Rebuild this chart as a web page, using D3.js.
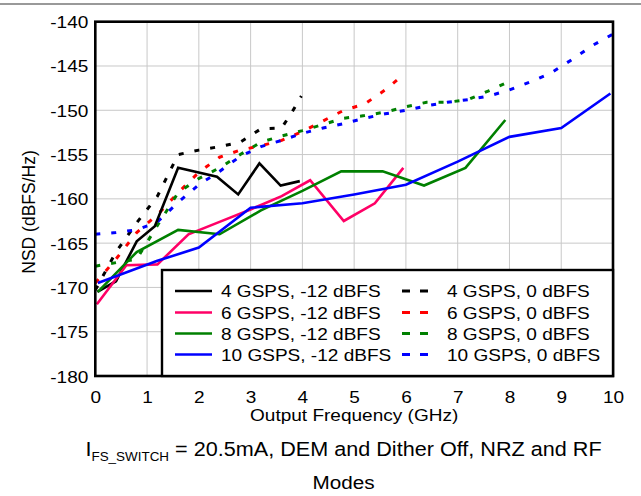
<!DOCTYPE html>
<html><head><meta charset="utf-8">
<script src="https://cdn.jsdelivr.net/npm/d3@7"></script>
<style>html,body{margin:0;padding:0;background:#fff;}svg{display:block;}text{font-family:"Liberation Sans",Arial,sans-serif;fill:#000;}</style>
</head><body>
<script>
// ---- data ----
const xTicks = [0,1,2,3,4,5,6,7,8,9,10];
const yTicks = [-180,-175,-170,-165,-160,-155,-150,-145,-140];

const f4s  = [0.04,0.4,0.8,1.15,1.6,2.35,2.76,3.17,3.58,3.95];
const v4s  = [-170.5,-169.3,-164.8,-163.1,-156.5,-157.5,-159.5,-156.0,-158.5,-158.0];
const f6s  = [0.03,0.6,1.2,1.8,2.4,3.0,3.6,4.15,4.8,5.4,5.95];
const v6s  = [-171.9,-167.5,-167.4,-164.0,-162.6,-161.2,-159.7,-157.9,-162.5,-160.5,-156.5];
const f8s  = [0.05,0.8,1.6,2.4,3.2,4.0,4.75,5.55,6.35,7.15,7.92];
const v8s  = [-170.5,-166.0,-163.5,-164.0,-161.3,-159.1,-156.9,-156.9,-158.5,-156.5,-151.1];
const f10s = [0.05,1.2,2.0,3.0,4.0,5.0,6.0,7.0,8.0,9.0,9.95];
const v10s = [-169.5,-167.0,-165.5,-161.0,-160.5,-159.5,-158.4,-155.8,-153.0,-152.0,-148.1];

const f4d  = [0.0,0.4,0.8,1.2,1.6,2.0,2.4,2.8,3.2,3.6,3.8,3.98];
const v4d  = [-170.3,-166.0,-162.7,-159.7,-155.0,-154.5,-154.1,-153.6,-152.1,-152.0,-150.2,-148.4];
const f6d  = [0.0,0.4,0.8,1.2,1.6,2.0,2.4,2.8,3.2,3.6,4.0,4.4,4.8,5.2,5.6,5.95];
const v6d  = [-169.5,-166.8,-163.8,-161.8,-159.3,-157.0,-155.3,-154.5,-154.0,-153.4,-152.4,-151.2,-150.0,-149.3,-147.7,-146.0];
const f8d  = [0.0,0.4,0.8,1.2,1.6,2.0,2.4,2.8,3.2,3.6,4.0,4.4,4.8,5.2,5.6,6.0,6.4,6.8,7.2,7.6,7.9];
const v8d  = [-167.6,-167.2,-166.8,-163.0,-159.3,-157.7,-156.5,-155.0,-153.6,-152.9,-152.3,-151.6,-150.9,-150.6,-150.2,-149.6,-149.1,-149.1,-148.8,-147.8,-147.0];
const f10d = [0.0,0.4,0.8,1.2,1.6,2.0,2.4,2.8,3.2,3.6,4.0,4.4,4.8,5.2,5.6,6.0,6.4,6.8,7.2,7.6,8.0,8.4,8.8,9.2,9.6,10.0];
const v10d = [-164.0,-163.8,-163.5,-162.6,-160.4,-158.4,-156.9,-155.2,-154.1,-153.4,-152.6,-152.0,-151.5,-150.9,-150.4,-150.0,-149.5,-149.1,-148.8,-148.4,-147.7,-146.8,-145.8,-144.3,-142.7,-141.4];

const legendLabels = ["4 GSPS, -12 dBFS","6 GSPS, -12 dBFS","8 GSPS, -12 dBFS","10 GSPS, -12 dBFS",
                      "4 GSPS, 0 dBFS","6 GSPS, 0 dBFS","8 GSPS, 0 dBFS","10 GSPS, 0 dBFS"];

// ---- layout ----
const W = 641, H = 496;
const L = 95.3, R = 613, T = 21.7, B = 376;
const SX = 1.12;
const cBlack = "#000000", cPink = "#ff0066", cRed = "#ff0000", cGreen = "#008000", cBlue = "#0000ff";

const series = [
  {f:f4d, v:v4d, c:cBlack, dash:true}, {f:f6d, v:v6d, c:cRed, dash:true},
  {f:f8d, v:v8d, c:cGreen, dash:true}, {f:f10d, v:v10d, c:cBlue, dash:true},
  {f:f4s, v:v4s, c:cBlack, dash:false}, {f:f6s, v:v6s, c:cPink, dash:false},
  {f:f8s, v:v8s, c:cGreen, dash:false}, {f:f10s, v:v10s, c:cBlue, dash:false}
];

const svg = d3.select("body").append("svg").attr("width", W).attr("height", H);
const x = d3.scaleLinear().domain([0,10]).range([L,R]);
const y = d3.scaleLinear().domain([-180,-140]).range([B,T]);

function label(g, px, py, str, anchor, size) {
  const t = g.append("g").attr("transform", `translate(${px},${py}) scale(${SX},1)`)
    .append("text").attr("text-anchor", anchor).style("font-size", size + "px").text(str);
  return t;
}

// top rule
svg.append("line").attr("x1",0).attr("x2",W).attr("y1",4).attr("y2",4).attr("stroke","#777").attr("stroke-width",1.5);

// grid
svg.append("g").selectAll("line").data(xTicks).join("line")
  .attr("x1", d=>x(d)).attr("x2", d=>x(d)).attr("y1", T).attr("y2", B)
  .attr("stroke", "#c8c8c8").attr("stroke-width", 1);
svg.append("g").selectAll("line").data(yTicks).join("line")
  .attr("x1", L).attr("x2", R).attr("y1", d=>y(d)).attr("y2", d=>y(d))
  .attr("stroke", "#c8c8c8").attr("stroke-width", 1);

// axes (labels only, via d3 axes)
const xAxis = svg.append("g").attr("transform", `translate(0,${B})`)
  .call(d3.axisBottom(x).tickValues(xTicks).tickSize(0).tickPadding(0).tickFormat(d3.format("d")));
xAxis.select(".domain").remove();
xAxis.selectAll(".tick text").each(function(d){
  const tk = d3.select(this.parentNode);
  d3.select(this).remove();
  tk.append("g").attr("transform", `translate(0,27) scale(${SX},1)`).append("text")
    .attr("text-anchor","middle").style("font-size","17px").text(d);
});
const yAxis = svg.append("g").attr("transform", `translate(${L},0)`)
  .call(d3.axisLeft(y).tickValues(yTicks).tickSize(0).tickPadding(0).tickFormat(d3.format("d")));
yAxis.select(".domain").remove();
yAxis.selectAll(".tick text").each(function(d){
  const tk = d3.select(this.parentNode);
  d3.select(this).remove();
  tk.append("g").attr("transform", `translate(-7,6) scale(${SX},1)`).append("text")
    .attr("text-anchor","end").style("font-size","17px").text(d);
});

// lines
const lineGen = d3.line().x(d=>x(d[0])).y(d=>y(d[1]));
series.forEach(s => {
  const pts = s.f.map((f,i)=>[f, s.v[i]]);
  svg.append("path").datum(pts).attr("d", lineGen).attr("fill","none")
    .attr("stroke", s.c).attr("stroke-width", s.dash ? 3 : 2.6)
    .attr("stroke-dasharray", s.dash ? "5,11" : null)
    .attr("stroke-linejoin","miter");
});

// plot frame
svg.append("rect").attr("x", L).attr("y", T).attr("width", R-L).attr("height", B-T)
  .attr("fill","none").attr("stroke","#000").attr("stroke-width",2.6);

// legend
const lg = svg.append("g");
lg.append("rect").attr("x",162).attr("y",270).attr("width",R-162).attr("height",B-270)
  .attr("fill","#fff").attr("stroke","#000").attr("stroke-width",2.4);
const rowY = [291, 312.5, 333.5, 354.5];
const legendColors = [cBlack,cPink,cGreen,cBlue,cBlack,cRed,cGreen,cBlue];
legendLabels.forEach((lab,i)=>{
  const col = Math.floor(i/4), row = i%4;
  const yy = rowY[row];
  if (col === 0) {
    lg.append("line").attr("x1",175).attr("x2",212).attr("y1",yy).attr("y2",yy)
      .attr("stroke",legendColors[i]).attr("stroke-width",2.6);
    label(lg, 221, yy+6, lab, "start", 17);
  } else {
    lg.append("line").attr("x1",402).attr("x2",428).attr("y1",yy).attr("y2",yy)
      .attr("stroke",legendColors[i]).attr("stroke-width",3).attr("stroke-dasharray","8,10");
    label(lg, 447, yy+6, lab, "start", 17);
  }
});

// axis titles
label(svg, (L+R)/2, 421, "Output Frequency (GHz)", "middle", 17);
svg.append("text").attr("transform","translate(35,212) rotate(-90)")
  .attr("text-anchor","middle").style("font-size","17.5px").text("NSD (dBFS/Hz)");

// caption
const cap = svg.append("g").attr("transform", `translate(343.5,456) scale(${SX},1)`)
  .append("text").attr("text-anchor","middle").style("font-size","19.3px");
cap.append("tspan").text("I");
cap.append("tspan").attr("dy",5).style("font-size","12px").text("FS_SWITCH");
cap.append("tspan").attr("dy",-5).text(" = 20.5mA, DEM and Dither Off, NRZ and RF");
label(svg, 343.5, 489, "Modes", "middle", 18.5);
</script>
</body></html>
